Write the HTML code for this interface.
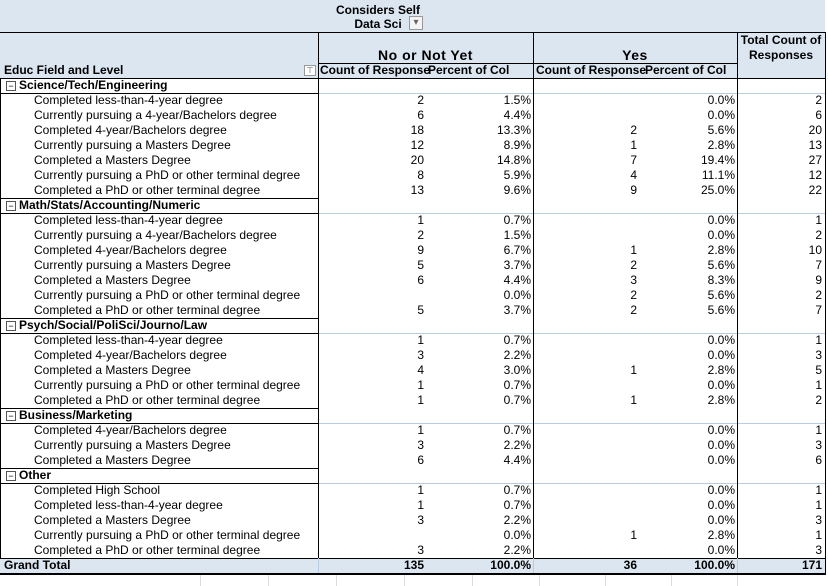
<!DOCTYPE html>
<html><head><meta charset="utf-8"><style>
body{margin:0;width:828px;height:586px;background:#fff;position:relative;overflow:hidden;font-family:"Liberation Sans",Arial,sans-serif;font-size:12px;color:#000}
.a{position:absolute;white-space:nowrap;line-height:15px}
.r{text-align:right}
.b{font-weight:bold}
.h{position:absolute;background:#000}
.g{position:absolute;background:#b8cce4}
</style></head><body>
<div id="t"></div>
<script>
const groups=["Science/Tech/Engineering","Math/Stats/Accounting/Numeric","Psych/Social/PoliSci/Journo/Law","Business/Marketing","Other"];
const labels=[
["Completed less-than-4-year degree","Currently pursuing a 4-year/Bachelors degree","Completed 4-year/Bachelors degree","Currently pursuing a Masters Degree","Completed a Masters Degree","Currently pursuing a PhD or other terminal degree","Completed a PhD or other terminal degree"],
["Completed less-than-4-year degree","Currently pursuing a 4-year/Bachelors degree","Completed 4-year/Bachelors degree","Currently pursuing a Masters Degree","Completed a Masters Degree","Currently pursuing a PhD or other terminal degree","Completed a PhD or other terminal degree"],
["Completed less-than-4-year degree","Completed 4-year/Bachelors degree","Completed a Masters Degree","Currently pursuing a PhD or other terminal degree","Completed a PhD or other terminal degree"],
["Completed 4-year/Bachelors degree","Currently pursuing a Masters Degree","Completed a Masters Degree"],
["Completed High School","Completed less-than-4-year degree","Completed a Masters Degree","Currently pursuing a PhD or other terminal degree","Completed a PhD or other terminal degree"]];
const noCount=[[2,6,18,12,20,8,13],[1,2,9,5,6,null,5],[1,3,4,1,1],[1,3,6],[1,1,3,null,3]];
const noPct=[["1.5%","4.4%","13.3%","8.9%","14.8%","5.9%","9.6%"],["0.7%","1.5%","6.7%","3.7%","4.4%","0.0%","3.7%"],["0.7%","2.2%","3.0%","0.7%","0.7%"],["0.7%","2.2%","4.4%"],["0.7%","0.7%","2.2%","0.0%","2.2%"]];
const yesCount=[[null,null,2,1,7,4,9],[null,null,1,2,3,2,2],[null,null,1,null,1],[null,null,null],[null,null,null,1,null]];
const yesPct=[["0.0%","0.0%","5.6%","2.8%","19.4%","11.1%","25.0%"],["0.0%","0.0%","2.8%","5.6%","8.3%","5.6%","5.6%"],["0.0%","0.0%","2.8%","0.0%","2.8%"],["0.0%","0.0%","0.0%"],["0.0%","0.0%","0.0%","2.8%","0.0%"]];
const totals=[[2,6,20,13,27,12,22],[1,2,10,7,9,2,7],[1,3,5,1,2],[1,3,6],[1,1,3,1,3]];
const grand=["135","100.0%","36","100.0%","171"];

const T=document.getElementById('t');
function box(cls,x,y,w,h,txt,style){const d=document.createElement('div');d.className=cls;d.style.left=x+'px';d.style.top=y+'px';if(w!=null)d.style.width=w+'px';if(h!=null)d.style.height=h+'px';if(txt!=null)d.textContent=txt;if(style)d.style.cssText+=style;T.appendChild(d);return d;}
let e;
e=box('a',0,0,825,78,null,'background:#dce6f1');

e=box('a',318,3,120,30,null,'text-align:center;line-height:14px;font-weight:bold');e.innerHTML='Considers Self<br>Data Sci';

e=box('a',409,16,14,14,'▾','background:#f4f4f4;border:1px solid #999;box-sizing:border-box;font-size:10px;line-height:12px;text-align:center;color:#666');

e=box('a',318,48,215,16,'No or Not Yet','text-align:center;font-weight:bold;font-size:14px;letter-spacing:0.5px');

e=box('a',533,48,204,16,'Yes','text-align:center;font-weight:bold;font-size:14px;letter-spacing:0.5px');

e=box('a',737,33,88,30,null,'text-align:center;font-weight:bold;line-height:15px');e.innerHTML='Total Count of<br>Responses';

e=box('a',4,63,300,15,'Educ Field and Level','font-weight:bold');

e=box('a',304,65,12,11,'⊤','border:1px solid #999;box-sizing:border-box;font-size:8px;line-height:9px;text-align:center;background:#fff;color:#555');

[[320,'Count of Response'],[428,'Percent of Col'],[536,'Count of Response'],[645,'Percent of Col']].forEach(([x,s],i)=>{
 e=box('a',x,63,null,15,s,'font-weight:bold');
 });
box('h',0,32,825,1);box('h',318,63,419,1);box('h',0,78,825,1);
box('h',318,32,1,46);box('h',533,32,1,46);box('h',737,32,1,46);box('h',825,32,1,46);
let y=78;
groups.forEach((g,gi)=>{
 e=box('a',6,y,300,15,null,'font-weight:bold');e.innerHTML='<span style="display:inline-block;width:8px;height:8px;border:1px solid #555;font-size:9px;line-height:8px;text-align:center;font-weight:normal;margin-right:3px;vertical-align:0px">−</span>'+g;
 
 box('h',0,y+15,318,1);box('g',318,y+15,507,1);
 y+=15;
 labels[gi].forEach((l,i)=>{
  e=box('a',34,y,280,15,l);
  const vals=[[318,106,noCount[gi][i]],[427,104,noPct[gi][i]],[533,104,yesCount[gi][i]],[640,95,yesPct[gi][i]],[737,85,totals[gi][i]]];
  vals.forEach(([x,w,v])=>{if(v==null)return;e=box('a r',x,y,w,15,String(v));});
  y+=15;
 });
 box('h',0,y,318,1);
});
box('h',0,78,1,495);box('h',318,78,1,480);box('h',533,78,1,480);box('h',737,78,1,480);box('h',825,78,1,495);
e=box('a',0,558,825,15,null,'background:#dce6f1');
e=box('a b',4,558,200,15,'Grand Total');
[[318,106],[427,104],[533,104],[640,95],[737,85]].forEach(([x,w],i)=>{e=box('a r b',x,558,w,15,grand[i]);});
box('h',0,558,825,1);box('h',0,573,826,2);
box('g',533,558,1,15);box('g',737,558,1,15);box('g',318,558,1,15);
[200,268,336,404,472,539,605,671,737].forEach(x=>box('a',x,575,1,11,null,'background:#dadcdd'));
</script>
</body></html>
